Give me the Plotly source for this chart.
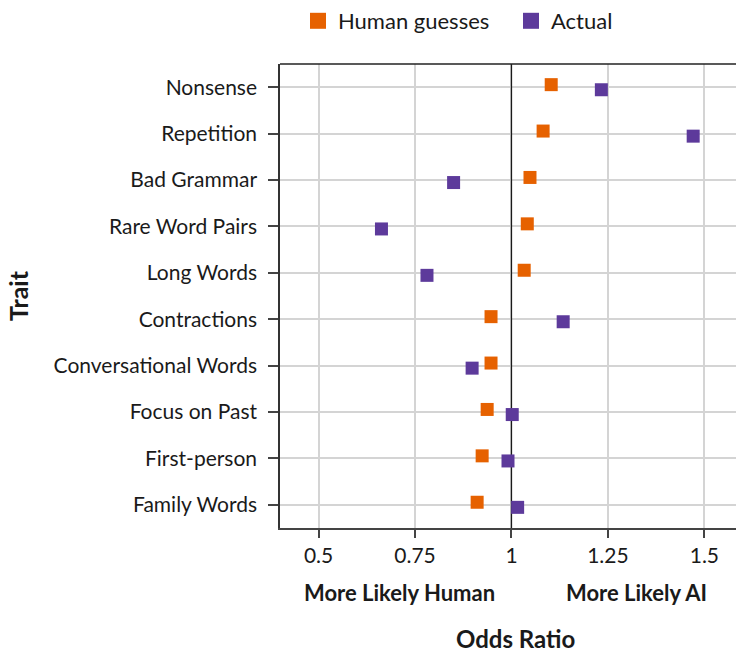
import plotly.graph_objects as go

traits = ["Nonsense", "Repetition", "Bad Grammar", "Rare Word Pairs", "Long Words",
          "Contractions", "Conversational Words", "Focus on Past", "First-person", "Family Words"]
human_guesses = [1.103, 1.082, 1.048, 1.041, 1.033, 0.947, 0.947, 0.937, 0.924, 0.911]
actual = [1.233, 1.471, 0.850, 0.663, 0.781, 1.134, 0.898, 1.002, 0.991, 1.016]
x_ticks = [0.5, 0.75, 1, 1.25, 1.5]
x_tick_labels = ["0.5", "0.75", "1", "1.25", "1.5"]
reference_ratio = 1

FONT = "Lato"
ORANGE = "#E66100"
PURPLE = "#5D3A9B"

idx = list(range(len(traits)))
dodge = 0.055
y_range = [len(traits) - 0.5, -0.5]

fig = go.Figure()
# reference line at odds ratio = 1 (drawn first so markers sit on top)
fig.add_trace(go.Scatter(
    x=[reference_ratio, reference_ratio], y=y_range, mode="lines",
    line=dict(color="#1a1a1a", width=1.3), showlegend=False, hoverinfo="skip"))
fig.add_trace(go.Scatter(
    x=human_guesses, y=[i - dodge for i in idx], mode="markers", name="Human guesses",
    marker=dict(symbol="square", size=13, color=ORANGE, line=dict(width=0)),
    cliponaxis=False, legendgroup="h", showlegend=False))
fig.add_trace(go.Scatter(
    x=actual, y=[i + dodge for i in idx], mode="markers", name="Actual",
    marker=dict(symbol="square", size=13, color=PURPLE, line=dict(width=0)),
    cliponaxis=False, legendgroup="a", showlegend=False))
# legend entries with larger key squares
fig.add_trace(go.Scatter(
    x=[None], y=[None], mode="markers", name="Human guesses", legendgroup="h",
    marker=dict(symbol="square", size=16, color=ORANGE, line=dict(width=0))))
fig.add_trace(go.Scatter(
    x=[None], y=[None], mode="markers", name="Actual", legendgroup="a",
    marker=dict(symbol="square", size=16, color=PURPLE, line=dict(width=0))))

fig.update_layout(
    width=736, height=653,
    margin=dict(l=280, r=0, t=64, b=125, autoexpand=False),
    paper_bgcolor="white", plot_bgcolor="white",
    font=dict(family=FONT, size=21, color="#1a1a1a"),
    showlegend=True,
    legend=dict(orientation="h", x=298 / 736, xref="container", xanchor="left",
                y=1.0, yanchor="top", yref="container", font=dict(size=22),
                itemsizing="trace", itemwidth=30, entrywidth=168,
                entrywidthmode="pixels", tracegroupgap=0),
    xaxis=dict(range=[0.4, 1.582], tickvals=x_ticks, ticktext=x_tick_labels,
               showgrid=True, gridcolor="#d4d4d4", gridwidth=1.5,
               showline=True, linecolor="#444444", linewidth=1.5, mirror=False,
               ticks="outside", ticklen=8, tickwidth=1.5, tickcolor="#444444",
               zeroline=False, tickfont=dict(size=21), automargin=False),
    yaxis=dict(range=y_range, tickvals=idx, ticktext=traits,
               showgrid=True, gridcolor="#d4d4d4", gridwidth=1.5,
               showline=True, linecolor="#333333", linewidth=1.5,
               ticks="outside", ticklen=10, tickwidth=1.5, tickcolor="#444444",
               zeroline=False, tickfont=dict(size=21), ticklabelstandoff=7,
               automargin=False),
)

fig.add_shape(type="line", xref="paper", yref="paper", x0=0, x1=1, y0=1, y1=1,
              line=dict(color="#222222", width=1.5))

fig.add_annotation(x=0.71, xref="x", y=-0.140, yref="paper", yanchor="middle",
                   text="<b>More Likely Human</b>",
                   showarrow=False, font=dict(size=22, family=FONT))
fig.add_annotation(x=1.325, xref="x", y=-0.140, yref="paper", yanchor="middle",
                   text="<b>More Likely AI</b>",
                   showarrow=False, font=dict(size=22, family=FONT))
fig.add_annotation(x=1.01, xref="x", y=-0.238, yref="paper", yanchor="middle",
                   text="<b>Odds Ratio</b>",
                   showarrow=False, font=dict(size=24, family=FONT))
fig.add_annotation(x=-262 / 456, xref="paper", xanchor="center", y=0.5, yref="paper",
                   yanchor="middle", text="<b>Trait</b>",
                   showarrow=False, textangle=-90, font=dict(size=25, family=FONT))

fig.write_html("out.html", config={"displayModeBar": False},
               post_script="document.body.style.margin='0';")
